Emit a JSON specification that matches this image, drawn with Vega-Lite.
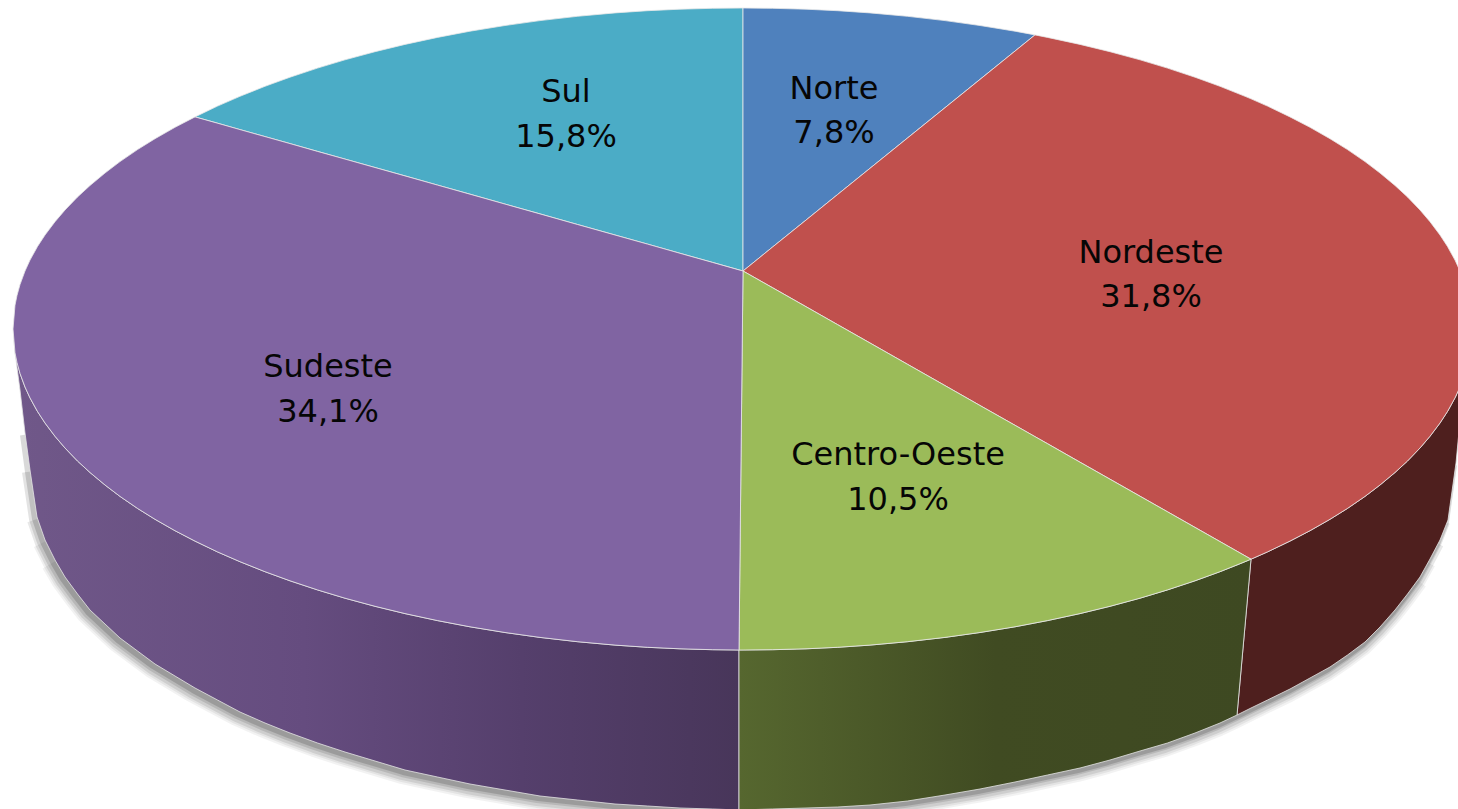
{"$schema":"https://vega.github.io/schema/vega-lite/v6.json","width":1458,"height":809,"padding":0,"autosize":{"type":"fit","contains":"padding"},"background":"white","config":{"view":{"stroke":null}},
"datasets":{
"topo":[
{"regiao":"Sul","x":195,"y":116.9,"y2":116.9},{"regiao":"Sul","x":217.5,"y":106.1,"y2":123.2},{"regiao":"Sul","x":240,"y":96.3,"y2":129.6},{"regiao":"Sul","x":265,"y":86.3,"y2":136.6},{"regiao":"Sul","x":290,"y":77.2,"y2":143.6},{"regiao":"Sul","x":317.5,"y":68.1,"y2":151.4},{"regiao":"Sul","x":345,"y":59.8,"y2":159.1},{"regiao":"Sul","x":375,"y":51.7,"y2":167.5},{"regiao":"Sul","x":405,"y":44.4,"y2":175.9},{"regiao":"Sul","x":437.5,"y":37.4,"y2":185.1},{"regiao":"Sul","x":470,"y":31.2,"y2":194.2},{"regiao":"Sul","x":505,"y":25.5,"y2":204.1},{"regiao":"Sul","x":540,"y":20.6,"y2":213.9},{"regiao":"Sul","x":577.5,"y":16.3,"y2":224.5},{"regiao":"Sul","x":615,"y":12.9,"y2":235},{"regiao":"Sul","x":647.5,"y":10.7,"y2":244.1},{"regiao":"Sul","x":680,"y":9.2,"y2":253.3},{"regiao":"Sul","x":712.5,"y":8.3,"y2":262.4},{"regiao":"Sul","x":743,"y":8,"y2":271},
{"regiao":"Norte","x":743,"y":8,"y2":271},{"regiao":"Norte","x":772.5,"y":8.3,"y2":247.1},{"regiao":"Norte","x":806,"y":9.2,"y2":220.1},{"regiao":"Norte","x":837.5,"y":10.7,"y2":194.6},{"regiao":"Norte","x":870,"y":12.9,"y2":168.3},{"regiao":"Norte","x":907.5,"y":16.3,"y2":138},{"regiao":"Norte","x":945,"y":20.6,"y2":107.7},{"regiao":"Norte","x":980,"y":25.5,"y2":79.4},{"regiao":"Norte","x":1015,"y":31.2,"y2":51.1},{"regiao":"Norte","x":1035,"y":34.9,"y2":34.9},
{"regiao":"Nordeste","x":743,"y":271,"y2":271},{"regiao":"Nordeste","x":772.5,"y":247.1,"y2":287.7},{"regiao":"Nordeste","x":806,"y":220.1,"y2":306.7},{"regiao":"Nordeste","x":837.5,"y":194.6,"y2":324.6},{"regiao":"Nordeste","x":870,"y":168.3,"y2":343},{"regiao":"Nordeste","x":907.5,"y":138,"y2":364.3},{"regiao":"Nordeste","x":945,"y":107.7,"y2":385.6},{"regiao":"Nordeste","x":980,"y":79.4,"y2":405.5},{"regiao":"Nordeste","x":1015,"y":51.1,"y2":425.3},{"regiao":"Nordeste","x":1035,"y":34.9,"y2":436.7},{"regiao":"Nordeste","x":1047.5,"y":37.4,"y2":443.7},{"regiao":"Nordeste","x":1080,"y":44.4,"y2":462.2},{"regiao":"Nordeste","x":1110,"y":51.7,"y2":479.2},{"regiao":"Nordeste","x":1140,"y":59.8,"y2":496.2},{"regiao":"Nordeste","x":1167.5,"y":68.1,"y2":511.8},{"regiao":"Nordeste","x":1195,"y":77.2,"y2":527.4},{"regiao":"Nordeste","x":1220,"y":86.3,"y2":541.6},{"regiao":"Nordeste","x":1245,"y":96.3,"y2":555.8},{"regiao":"Nordeste","x":1251,"y":98.8,"y2":559.2},{"regiao":"Nordeste","x":1267.5,"y":106.1,"y2":551.9},{"regiao":"Nordeste","x":1290,"y":116.9,"y2":541.1},{"regiao":"Nordeste","x":1310,"y":127.3,"y2":530.7},{"regiao":"Nordeste","x":1330,"y":138.7,"y2":519.3},{"regiao":"Nordeste","x":1347.5,"y":149.6,"y2":508.4},{"regiao":"Nordeste","x":1365,"y":161.6,"y2":496.4},{"regiao":"Nordeste","x":1380,"y":173,"y2":485},{"regiao":"Nordeste","x":1395,"y":185.5,"y2":472.5},{"regiao":"Nordeste","x":1407.5,"y":197,"y2":461},{"regiao":"Nordeste","x":1420,"y":210,"y2":448},{"regiao":"Nordeste","x":1430,"y":221.7,"y2":436.3},{"regiao":"Nordeste","x":1440,"y":235,"y2":423},{"regiao":"Nordeste","x":1447.5,"y":246.5,"y2":411.5},{"regiao":"Nordeste","x":1455,"y":260.1,"y2":397.9},{"regiao":"Nordeste","x":1460,"y":271,"y2":387},{"regiao":"Nordeste","x":1465,"y":284.6,"y2":373.4},{"regiao":"Nordeste","x":1468,"y":295.4,"y2":362.6},{"regiao":"Nordeste","x":1470,"y":305.2,"y2":352.8},{"regiao":"Nordeste","x":1472,"y":329,"y2":329},
{"regiao":"Centro-Oeste","x":739,"y":650,"y2":650},{"regiao":"Centro-Oeste","x":743,"y":271,"y2":650},{"regiao":"Centro-Oeste","x":772.5,"y":287.7,"y2":649.7},{"regiao":"Centro-Oeste","x":806,"y":306.7,"y2":648.8},{"regiao":"Centro-Oeste","x":837.5,"y":324.6,"y2":647.3},{"regiao":"Centro-Oeste","x":870,"y":343,"y2":645.1},{"regiao":"Centro-Oeste","x":907.5,"y":364.3,"y2":641.7},{"regiao":"Centro-Oeste","x":945,"y":385.6,"y2":637.4},{"regiao":"Centro-Oeste","x":980,"y":405.5,"y2":632.5},{"regiao":"Centro-Oeste","x":1015,"y":425.3,"y2":626.8},{"regiao":"Centro-Oeste","x":1047.5,"y":443.7,"y2":620.6},{"regiao":"Centro-Oeste","x":1080,"y":462.2,"y2":613.6},{"regiao":"Centro-Oeste","x":1110,"y":479.2,"y2":606.3},{"regiao":"Centro-Oeste","x":1140,"y":496.2,"y2":598.2},{"regiao":"Centro-Oeste","x":1167.5,"y":511.8,"y2":589.9},{"regiao":"Centro-Oeste","x":1195,"y":527.4,"y2":580.8},{"regiao":"Centro-Oeste","x":1220,"y":541.6,"y2":571.7},{"regiao":"Centro-Oeste","x":1245,"y":555.8,"y2":561.7},{"regiao":"Centro-Oeste","x":1251,"y":559.2,"y2":559.2},
{"regiao":"Sudeste","x":13,"y":329,"y2":329},{"regiao":"Sudeste","x":15,"y":305.2,"y2":352.8},{"regiao":"Sudeste","x":17,"y":295.4,"y2":362.6},{"regiao":"Sudeste","x":20,"y":284.6,"y2":373.4},{"regiao":"Sudeste","x":25,"y":271,"y2":387},{"regiao":"Sudeste","x":30,"y":260.1,"y2":397.9},{"regiao":"Sudeste","x":37.5,"y":246.5,"y2":411.5},{"regiao":"Sudeste","x":45,"y":235,"y2":423},{"regiao":"Sudeste","x":55,"y":221.7,"y2":436.3},{"regiao":"Sudeste","x":65,"y":210,"y2":448},{"regiao":"Sudeste","x":77.5,"y":197,"y2":461},{"regiao":"Sudeste","x":90,"y":185.5,"y2":472.5},{"regiao":"Sudeste","x":105,"y":173,"y2":485},{"regiao":"Sudeste","x":120,"y":161.6,"y2":496.4},{"regiao":"Sudeste","x":137.5,"y":149.6,"y2":508.4},{"regiao":"Sudeste","x":155,"y":138.7,"y2":519.3},{"regiao":"Sudeste","x":175,"y":127.3,"y2":530.7},{"regiao":"Sudeste","x":195,"y":116.9,"y2":541.1},{"regiao":"Sudeste","x":217.5,"y":123.2,"y2":551.9},{"regiao":"Sudeste","x":240,"y":129.6,"y2":561.7},{"regiao":"Sudeste","x":265,"y":136.6,"y2":571.7},{"regiao":"Sudeste","x":290,"y":143.6,"y2":580.8},{"regiao":"Sudeste","x":317.5,"y":151.4,"y2":589.9},{"regiao":"Sudeste","x":345,"y":159.1,"y2":598.2},{"regiao":"Sudeste","x":375,"y":167.5,"y2":606.3},{"regiao":"Sudeste","x":405,"y":175.9,"y2":613.6},{"regiao":"Sudeste","x":437.5,"y":185.1,"y2":620.6},{"regiao":"Sudeste","x":470,"y":194.2,"y2":626.8},{"regiao":"Sudeste","x":505,"y":204.1,"y2":632.5},{"regiao":"Sudeste","x":540,"y":213.9,"y2":637.4},{"regiao":"Sudeste","x":577.5,"y":224.5,"y2":641.7},{"regiao":"Sudeste","x":615,"y":235,"y2":645.1},{"regiao":"Sudeste","x":647.5,"y":244.1,"y2":647.3},{"regiao":"Sudeste","x":680,"y":253.3,"y2":648.8},{"regiao":"Sudeste","x":712.5,"y":262.4,"y2":649.7},{"regiao":"Sudeste","x":739,"y":269.9,"y2":650},{"regiao":"Sudeste","x":743,"y":271,"y2":271}
],
"lateral":[
{"regiao":"Sudeste","x":14,"y":340,"y2":340},{"regiao":"Sudeste","x":15,"y":352.8,"y2":352.8},{"regiao":"Sudeste","x":20,"y":373.4,"y2":390},{"regiao":"Sudeste","x":25,"y":387,"y2":433},{"regiao":"Sudeste","x":30,"y":397.9,"y2":470},{"regiao":"Sudeste","x":37,"y":410.7,"y2":517},{"regiao":"Sudeste","x":45,"y":423,"y2":540},{"regiao":"Sudeste","x":55,"y":436.3,"y2":560},{"regiao":"Sudeste","x":65,"y":448,"y2":577},{"regiao":"Sudeste","x":77.5,"y":461,"y2":594},{"regiao":"Sudeste","x":90,"y":472.5,"y2":610},{"regiao":"Sudeste","x":105,"y":485,"y2":624},{"regiao":"Sudeste","x":120,"y":496.4,"y2":638},{"regiao":"Sudeste","x":137.5,"y":508.4,"y2":651},{"regiao":"Sudeste","x":155,"y":519.3,"y2":664},{"regiao":"Sudeste","x":175,"y":530.7,"y2":676},{"regiao":"Sudeste","x":195,"y":541.1,"y2":688},{"regiao":"Sudeste","x":217.5,"y":551.9,"y2":700},{"regiao":"Sudeste","x":240,"y":561.7,"y2":712},{"regiao":"Sudeste","x":265,"y":571.7,"y2":723},{"regiao":"Sudeste","x":290,"y":580.8,"y2":733},{"regiao":"Sudeste","x":317.5,"y":589.9,"y2":743},{"regiao":"Sudeste","x":345,"y":598.2,"y2":752},{"regiao":"Sudeste","x":375,"y":606.3,"y2":761},{"regiao":"Sudeste","x":405,"y":613.6,"y2":770},{"regiao":"Sudeste","x":437.5,"y":620.6,"y2":777},{"regiao":"Sudeste","x":470,"y":626.8,"y2":784},{"regiao":"Sudeste","x":505,"y":632.5,"y2":790},{"regiao":"Sudeste","x":540,"y":637.4,"y2":796},{"regiao":"Sudeste","x":577.5,"y":641.7,"y2":800},{"regiao":"Sudeste","x":615,"y":645.1,"y2":804},{"regiao":"Sudeste","x":647.5,"y":647.3,"y2":806},{"regiao":"Sudeste","x":680,"y":648.8,"y2":808},{"regiao":"Sudeste","x":712.5,"y":649.7,"y2":809},{"regiao":"Sudeste","x":739,"y":650,"y2":810},
{"regiao":"Centro-Oeste","x":739,"y":650,"y2":810},{"regiao":"Centro-Oeste","x":772.5,"y":649.7,"y2":809},{"regiao":"Centro-Oeste","x":806,"y":648.8,"y2":808},{"regiao":"Centro-Oeste","x":837.5,"y":647.3,"y2":807},{"regiao":"Centro-Oeste","x":870,"y":645.1,"y2":805},{"regiao":"Centro-Oeste","x":907.5,"y":641.7,"y2":801},{"regiao":"Centro-Oeste","x":945,"y":637.4,"y2":795},{"regiao":"Centro-Oeste","x":980,"y":632.5,"y2":789},{"regiao":"Centro-Oeste","x":1015,"y":626.8,"y2":782},{"regiao":"Centro-Oeste","x":1047.5,"y":620.6,"y2":775},{"regiao":"Centro-Oeste","x":1080,"y":613.6,"y2":768},{"regiao":"Centro-Oeste","x":1110,"y":606.3,"y2":760},{"regiao":"Centro-Oeste","x":1140,"y":598.2,"y2":751},{"regiao":"Centro-Oeste","x":1167.5,"y":589.9,"y2":743},{"regiao":"Centro-Oeste","x":1195,"y":580.8,"y2":733},{"regiao":"Centro-Oeste","x":1220,"y":571.7,"y2":723},{"regiao":"Centro-Oeste","x":1237,"y":565,"y2":715},{"regiao":"Centro-Oeste","x":1251,"y":559.2,"y2":559.2},
{"regiao":"Nordeste","x":1237,"y":715,"y2":715},{"regiao":"Nordeste","x":1251,"y":559.2,"y2":708},{"regiao":"Nordeste","x":1267.5,"y":551.9,"y2":700},{"regiao":"Nordeste","x":1290,"y":541.1,"y2":689},{"regiao":"Nordeste","x":1310,"y":530.7,"y2":678},{"regiao":"Nordeste","x":1330,"y":519.3,"y2":667},{"regiao":"Nordeste","x":1347.5,"y":508.4,"y2":655},{"regiao":"Nordeste","x":1365,"y":496.4,"y2":642},{"regiao":"Nordeste","x":1380,"y":485,"y2":627},{"regiao":"Nordeste","x":1395,"y":472.5,"y2":610},{"regiao":"Nordeste","x":1407.5,"y":461,"y2":594},{"regiao":"Nordeste","x":1420,"y":448,"y2":577},{"regiao":"Nordeste","x":1430,"y":436.3,"y2":559},{"regiao":"Nordeste","x":1440,"y":423,"y2":540},{"regiao":"Nordeste","x":1448,"y":410.7,"y2":520},{"regiao":"Nordeste","x":1456,"y":396,"y2":463},{"regiao":"Nordeste","x":1462,"y":381,"y2":400}
],
"contorno":[
{"x":25,"y":433},{"x":30,"y":470},{"x":37,"y":517},{"x":45,"y":540},{"x":55,"y":560},{"x":65,"y":577},{"x":77.5,"y":594},{"x":90,"y":610},{"x":105,"y":624},{"x":120,"y":638},{"x":137.5,"y":651},{"x":155,"y":664},{"x":175,"y":676},{"x":195,"y":688},{"x":217.5,"y":700},{"x":240,"y":712},{"x":265,"y":723},{"x":290,"y":733},{"x":317.5,"y":743},{"x":345,"y":752},{"x":375,"y":761},{"x":405,"y":770},{"x":437.5,"y":777},{"x":470,"y":784},{"x":505,"y":790},{"x":540,"y":796},{"x":577.5,"y":800},{"x":615,"y":804},{"x":647.5,"y":806},{"x":680,"y":808},{"x":712.5,"y":809},{"x":739,"y":810},{"x":772.5,"y":809},{"x":806,"y":808},{"x":837.5,"y":807},{"x":870,"y":805},{"x":907.5,"y":801},{"x":945,"y":795},{"x":980,"y":789},{"x":1015,"y":782},{"x":1047.5,"y":775},{"x":1080,"y":768},{"x":1110,"y":760},{"x":1140,"y":751},{"x":1167.5,"y":743},{"x":1195,"y":733},{"x":1220,"y":723},{"x":1237,"y":715},{"x":1267.5,"y":700},{"x":1290,"y":689},{"x":1310,"y":678},{"x":1330,"y":667},{"x":1347.5,"y":655},{"x":1365,"y":642},{"x":1380,"y":627},{"x":1395,"y":610},{"x":1407.5,"y":594},{"x":1420,"y":577},{"x":1430,"y":559},{"x":1440,"y":540},{"x":1448,"y":520},{"x":1456,"y":463}
],
"rotulos":[
{"regiao":"Norte","pct":"7,8%","x":834,"y":89,"yp":133},
{"regiao":"Nordeste","pct":"31,8%","x":1151,"y":253,"yp":297},
{"regiao":"Centro-Oeste","pct":"10,5%","x":898,"y":455,"yp":500},
{"regiao":"Sudeste","pct":"34,1%","x":328,"y":367,"yp":412},
{"regiao":"Sul","pct":"15,8%","x":566,"y":92,"yp":137}
]},
"encoding":{
"x":{"field":"x","type":"quantitative","axis":null,"scale":{"domain":[0,1458],"nice":false,"zero":false}},
"y":{"field":"y","type":"quantitative","axis":null,"stack":null,"scale":{"domain":[809,0],"nice":false,"zero":false}}
},
"layer":[
{"data":{"name":"contorno"},"transform":[{"filter":"datum.x>=55 && datum.x<=1420"}],"mark":{"type":"line","clip":true,"stroke":"#000","strokeWidth":22,"opacity":0.05,"xOffset":-3,"yOffset":3,"strokeJoin":"round"}},
{"data":{"name":"contorno"},"transform":[{"filter":"datum.x>=45 && datum.x<=1430"}],"mark":{"type":"line","clip":true,"stroke":"#000","strokeWidth":18,"opacity":0.06,"xOffset":-3,"yOffset":3,"strokeJoin":"round"}},
{"data":{"name":"contorno"},"transform":[{"filter":"datum.x>=37 && datum.x<=1440"}],"mark":{"type":"line","clip":true,"stroke":"#000","strokeWidth":14,"opacity":0.09,"xOffset":-3,"yOffset":3,"strokeJoin":"round"}},
{"data":{"name":"contorno"},"transform":[{"filter":"datum.x>=30 && datum.x<=1448"}],"mark":{"type":"line","clip":true,"stroke":"#000","strokeWidth":10,"opacity":0.11,"xOffset":-3,"yOffset":2,"strokeJoin":"round"}},
{"data":{"name":"contorno"},"mark":{"type":"line","clip":true,"stroke":"#000","strokeWidth":6,"opacity":0.15,"xOffset":-2,"yOffset":2,"strokeJoin":"round"}},
{"data":{"name":"lateral"},"transform":[{"filter":"datum.regiao==='Sudeste'"}],"mark":{"type":"area","orient":"vertical","clip":true,"stroke":"#e4e4e4","strokeWidth":0.8,"fill":{"gradient":"linear","x1":0,"y1":0,"x2":1,"y2":0,"stops":[{"offset":0,"color":"#705889"},{"offset":0.4,"color":"#654c7f"},{"offset":0.7,"color":"#553f6c"},{"offset":1,"color":"#48365a"}]}},"encoding":{"y2":{"field":"y2"}}},
{"data":{"name":"lateral"},"transform":[{"filter":"datum.regiao==='Nordeste'"}],"mark":{"type":"area","orient":"vertical","clip":true,"stroke":"#e4e4e4","strokeWidth":0.8,"fill":"#4e1f1e"},"encoding":{"y2":{"field":"y2"}}},
{"data":{"name":"lateral"},"transform":[{"filter":"datum.regiao==='Centro-Oeste'"}],"mark":{"type":"area","orient":"vertical","clip":true,"stroke":"#e4e4e4","strokeWidth":0.8,"fill":{"gradient":"linear","x1":0,"y1":0,"x2":1,"y2":0,"stops":[{"offset":0,"color":"#56672f"},{"offset":0.5,"color":"#404b22"},{"offset":1,"color":"#3e4922"}]}},"encoding":{"y2":{"field":"y2"}}},
{"data":{"name":"topo"},"mark":{"type":"area","orient":"vertical","clip":true,"stroke":"#e8e8e8","strokeWidth":0.8},"encoding":{"y2":{"field":"y2"},"color":{"field":"regiao","type":"nominal","legend":null,"scale":{"domain":["Norte","Nordeste","Centro-Oeste","Sudeste","Sul"],"range":["#4f81bd","#c0504d","#9bbb59","#8064a2","#4bacc6"]}}}},
{"data":{"name":"rotulos"},"mark":{"type":"text","font":"DejaVu Sans","fontSize":32,"color":"#060606","baseline":"middle","align":"center"},"encoding":{"text":{"field":"regiao"}}},
{"data":{"name":"rotulos"},"mark":{"type":"text","font":"DejaVu Sans","fontSize":32,"color":"#060606","baseline":"middle","align":"center"},"encoding":{"y":{"field":"yp","type":"quantitative","scale":{"domain":[809,0],"nice":false,"zero":false}},"text":{"field":"pct"}}}
]}
